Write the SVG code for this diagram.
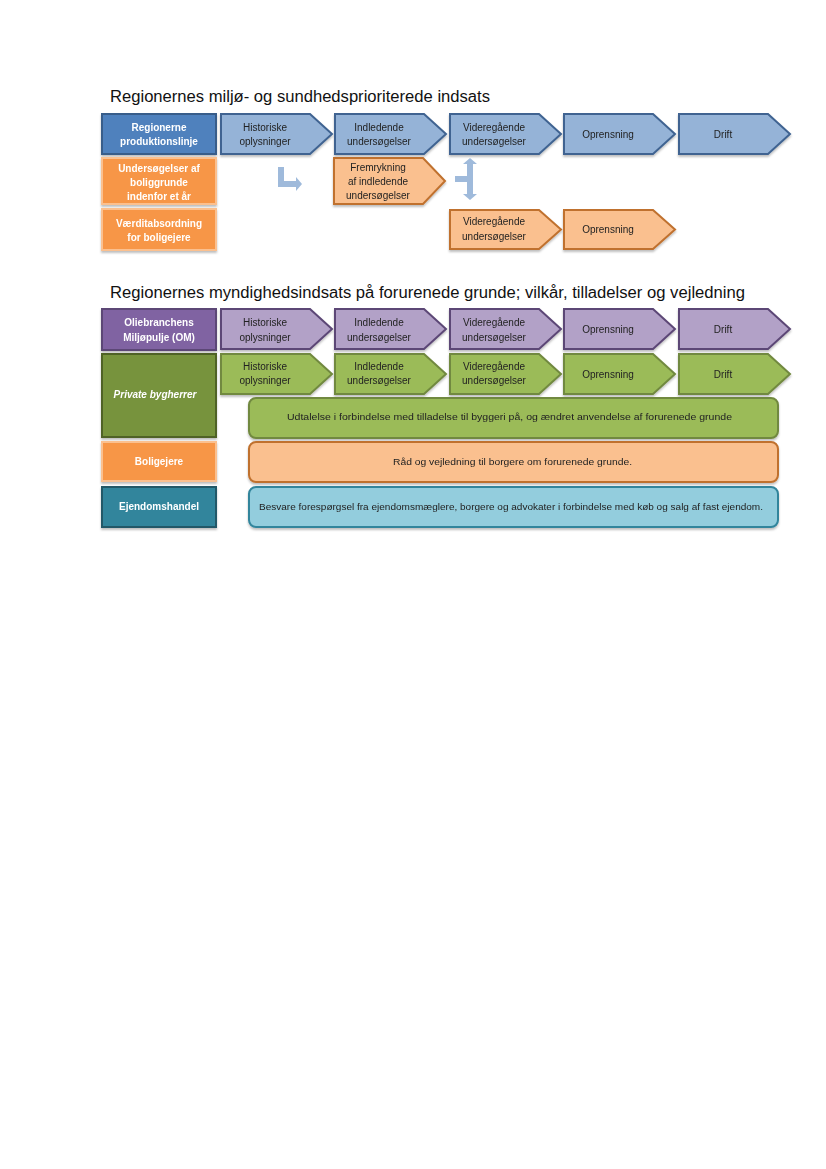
<svg xmlns="http://www.w3.org/2000/svg" width="826" height="1169" viewBox="0 0 826 1169">
<style>
  .title{font-family:"Liberation Sans",Arial,sans-serif;font-size:16px;fill:#111;}
  .lbl{font-family:"Liberation Sans",Arial,sans-serif;font-size:10px;font-weight:bold;fill:#fff;text-anchor:middle;}
  .ct{font-family:"Liberation Sans",Arial,sans-serif;font-size:10px;fill:#222;text-anchor:middle;}
  .bt{font-family:"Liberation Sans",Arial,sans-serif;font-size:9px;fill:#222;}
  .sh{filter:url(#shadow);}
  .lblue{fill:#4f81bd;stroke:#385d8a;stroke-width:2;}
  .cblue{fill:#95b3d7;stroke:#3f6391;stroke-width:2;}
  .lorange{fill:#f79646;stroke:#fbc08f;stroke-width:2;}
  .corange{fill:#fac08f;stroke:#c0712e;stroke-width:2;}
  .lpurple{fill:#8064a2;stroke:#5c4776;stroke-width:2;}
  .cpurple{fill:#b2a1c7;stroke:#5c4776;stroke-width:2;}
  .lgreen{fill:#77933c;stroke:#4f6228;stroke-width:2;}
  .cgreen{fill:#9bbb59;stroke:#71893f;stroke-width:2;}
  .lteal{fill:#31859c;stroke:#215968;stroke-width:2;}
  .cteal{fill:#93cddd;stroke:#31859c;stroke-width:2;}
  .conn{fill:#95b3d7;opacity:0.9;}
</style>
<defs>
  <filter id="shadow" x="-10%" y="-10%" width="120%" height="140%">
    <feDropShadow dx="0" dy="2" stdDeviation="1.2" flood-color="#000" flood-opacity="0.25"/>
  </filter>
</defs>
<rect width="826" height="1169" fill="#fff"/>

<text class="title" x="110" y="102" textLength="380" lengthAdjust="spacingAndGlyphs">Regionernes miljø- og sundhedsprioriterede indsats</text>
<text class="title" x="110" y="298" textLength="635" lengthAdjust="spacingAndGlyphs">Regionernes myndighedsindsats på forurenede grunde; vilkår, tilladelser og vejledning</text>

<!-- Section 1 row 1 -->
<g id="n-regionerne" class="sh"><rect class="lblue" x="102" y="114" width="114" height="40"/>
  <text class="lbl" x="159" y="131">Regionerne</text><text class="lbl" x="159" y="145">produktionslinje</text></g>
<g id="n-hist1" class="sh"><path class="cblue" d="M221,114 h89 l22,20 l-22,20 h-89 z"/>
  <text class="ct" x="265" y="131">Historiske</text><text class="ct" x="265" y="145">oplysninger</text></g>
<g id="n-indl1" class="sh"><path class="cblue" d="M335,114 h89 l22,20 l-22,20 h-89 z"/>
  <text class="ct" x="379" y="131">Indledende</text><text class="ct" x="379" y="145">undersøgelser</text></g>
<g id="n-vid1" class="sh"><path class="cblue" d="M450,114 h89 l22,20 l-22,20 h-89 z"/>
  <text class="ct" x="494" y="131">Videregående</text><text class="ct" x="494" y="145">undersøgelser</text></g>
<g id="n-opr1" class="sh"><path class="cblue" d="M564,114 h89 l22,20 l-22,20 h-89 z"/>
  <text class="ct" x="608" y="138">Oprensning</text></g>
<g id="n-drift1" class="sh"><path class="cblue" d="M679,114 h89 l22,20 l-22,20 h-89 z"/>
  <text class="ct" x="723" y="138">Drift</text></g>

<!-- Section 1 row 2/3 -->
<g id="n-unders" class="sh"><rect class="lorange" x="102" y="158" width="114" height="46"/>
  <text class="lbl" x="159" y="172">Undersøgelser af</text><text class="lbl" x="159" y="186">boliggrunde</text><text class="lbl" x="159" y="200">indenfor et år</text></g>
<g id="n-vaerdi" class="sh"><rect class="lorange" x="102" y="209" width="114" height="41"/>
  <text class="lbl" x="159" y="227">Værditabsordning</text><text class="lbl" x="159" y="241">for boligejere</text></g>
<g id="n-frem" class="sh"><path class="corange" d="M334,158 h89 l22,23 l-22,23 h-89 z"/>
  <text class="ct" x="378" y="171">Fremrykning</text><text class="ct" x="378" y="185">af indledende</text><text class="ct" x="378" y="199">undersøgelser</text></g>
<g id="n-vid2" class="sh"><path class="corange" d="M450,210 h89 l22,19.5 l-22,19.5 h-89 z"/>
  <text class="ct" x="494" y="225">Videregående</text><text class="ct" x="494" y="240">undersøgelser</text></g>
<g id="n-opr2" class="sh"><path class="corange" d="M564,210 h89 l22,19.5 l-22,19.5 h-89 z"/>
  <text class="ct" x="608" y="233">Oprensning</text></g>

<!-- Section 2 -->
<g id="n-om" class="sh"><rect class="lpurple" x="102" y="309" width="114" height="41"/>
  <text class="lbl" x="159" y="326">Oliebranchens</text><text class="lbl" x="159" y="341">Miljøpulje (OM)</text></g>
<g id="n-hist3" class="sh"><path class="cpurple" d="M221,309 h89 l22,20 l-22,20 h-89 z"/>
  <text class="ct" x="265" y="326">Historiske</text><text class="ct" x="265" y="341">oplysninger</text></g>
<g id="n-indl3" class="sh"><path class="cpurple" d="M335,309 h89 l22,20 l-22,20 h-89 z"/>
  <text class="ct" x="379" y="326">Indledende</text><text class="ct" x="379" y="341">undersøgelser</text></g>
<g id="n-vid3" class="sh"><path class="cpurple" d="M450,309 h89 l22,20 l-22,20 h-89 z"/>
  <text class="ct" x="494" y="326">Videregående</text><text class="ct" x="494" y="341">undersøgelser</text></g>
<g id="n-opr3" class="sh"><path class="cpurple" d="M564,309 h89 l22,20 l-22,20 h-89 z"/>
  <text class="ct" x="608" y="333">Oprensning</text></g>
<g id="n-drift3" class="sh"><path class="cpurple" d="M679,309 h89 l22,20 l-22,20 h-89 z"/>
  <text class="ct" x="723" y="333">Drift</text></g>

<g id="n-private" class="sh"><rect class="lgreen" x="102" y="354" width="114" height="83"/>
  <text class="lbl" x="155" y="398" font-style="italic">Private bygherrer</text></g>
<g id="n-hist4" class="sh"><path class="cgreen" d="M221,354 h89 l22,20 l-22,20 h-89 z"/>
  <text class="ct" x="265" y="370">Historiske</text><text class="ct" x="265" y="384">oplysninger</text></g>
<g id="n-indl4" class="sh"><path class="cgreen" d="M335,354 h89 l22,20 l-22,20 h-89 z"/>
  <text class="ct" x="379" y="370">Indledende</text><text class="ct" x="379" y="384">undersøgelser</text></g>
<g id="n-vid4" class="sh"><path class="cgreen" d="M450,354 h89 l22,20 l-22,20 h-89 z"/>
  <text class="ct" x="494" y="370">Videregående</text><text class="ct" x="494" y="384">undersøgelser</text></g>
<g id="n-opr4" class="sh"><path class="cgreen" d="M564,354 h89 l22,20 l-22,20 h-89 z"/>
  <text class="ct" x="608" y="378">Oprensning</text></g>
<g id="n-drift4" class="sh"><path class="cgreen" d="M679,354 h89 l22,20 l-22,20 h-89 z"/>
  <text class="ct" x="723" y="378">Drift</text></g>
<g id="n-udtalelse" class="sh"><rect class="cgreen" x="249" y="398" width="529" height="40" rx="7"/>
  <text class="bt" x="287" y="420" textLength="445" lengthAdjust="spacingAndGlyphs">Udtalelse i forbindelse med tilladelse til byggeri på, og ændret anvendelse af forurenede grunde</text></g>

<g id="n-boligejere" class="sh"><rect class="lorange" x="102" y="442" width="114" height="39"/>
  <text class="lbl" x="159" y="465">Boligejere</text></g>
<g id="n-raad" class="sh"><rect class="corange" x="249" y="442" width="529" height="40" rx="7"/>
  <text class="bt" x="393" y="465" textLength="239" lengthAdjust="spacingAndGlyphs">Råd og vejledning til borgere om forurenede grunde.</text></g>

<g id="n-ejendom" class="sh"><rect class="lteal" x="102" y="487" width="114" height="40"/>
  <text class="lbl" x="159" y="510">Ejendomshandel</text></g>
<g id="n-besvare" class="sh"><rect class="cteal" x="249" y="487" width="529" height="40" rx="7"/>
  <text class="bt" x="259" y="510" textLength="504" lengthAdjust="spacingAndGlyphs">Besvare forespørgsel fra ejendomsmæglere, borgere og advokater i forbindelse med køb og salg af fast ejendom.</text></g>

<!-- connectors -->
<g id="connectors">
  <path class="conn" d="M278,167 h6 v14 h12 v-4 l6,7 l-6,7 v-4 h-18 z"/>
  <path class="conn" d="M455,176 h12 v-12 h-4 l7,-6 l7,6 h-4 v30 h4 l-7,6 l-7,-6 h4 v-12 h-12 z"/>
</g>
</svg>
